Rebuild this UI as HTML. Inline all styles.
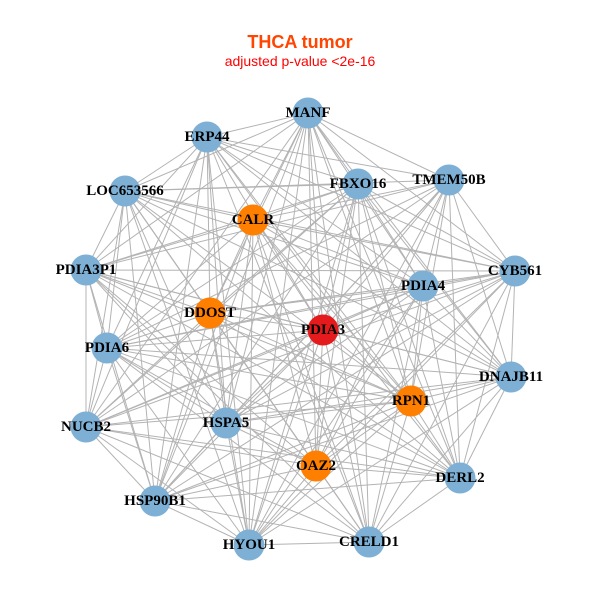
<!DOCTYPE html>
<html><head><style>
html,body{margin:0;padding:0;background:#fff;width:600px;height:600px;overflow:hidden}
svg text{font-family:"Liberation Serif",serif;font-weight:bold;font-size:15px;text-anchor:middle;dominant-baseline:central}
</style></head><body>
<svg id="g" width="600" height="600" xmlns="http://www.w3.org/2000/svg">
<text x="300" y="42" style="font-family:'Liberation Sans',sans-serif;font-size:18px;fill:#ff4500">THCA tumor</text>
<text x="300" y="61" style="font-family:'Liberation Sans',sans-serif;font-weight:normal;font-size:14px;fill:#ff0000">adjusted p-value &lt;2e-16</text>
<g id="e" stroke="#b3b3b3" stroke-width="1"></g>
<g id="n"></g>
</svg>
<script>
var N=[["MANF",308,113,0],["ERP44",207,137,0],["LOC653566",125,191,0],["FBXO16",358,184,0],["TMEM50B",449,180,0],["CALR",253,220,1],["PDIA3P1",86,270,0],["CYB561",515,271,0],["PDIA4",423,286,0],["DDOST",210,313,1],["PDIA3",323,330,2],["PDIA6",107,348,0],["DNAJB11",511,377,0],["RPN1",411,401,1],["NUCB2",86,427,0],["HSPA5",226,423,0],["OAZ2",316,466,1],["DERL2",460,478,0],["HSP90B1",155,501,0],["HYOU1",249,545,0],["CRELD1",369,542,0]];
var C=["#7eb0d5","#ff7f00","#e41a1c"],ns="http://www.w3.org/2000/svg";
var e=document.getElementById("e"),n=document.getElementById("n");
for(var i=0;i<N.length;i++)for(var j=i+1;j<N.length;j++){
 if((i*7+j*3)%11==0)continue;
 var l=document.createElementNS(ns,"line");
 l.setAttribute("x1",N[i][1]);l.setAttribute("y1",N[i][2]);l.setAttribute("x2",N[j][1]);l.setAttribute("y2",N[j][2]);e.appendChild(l);}
N.forEach(function(d){var c=document.createElementNS(ns,"circle");c.setAttribute("cx",d[1]);c.setAttribute("cy",d[2]);c.setAttribute("r",15.5);c.setAttribute("fill",C[d[3]]);n.appendChild(c);});
N.forEach(function(d){var t=document.createElementNS(ns,"text");t.setAttribute("x",d[1]);t.setAttribute("y",d[2]);t.textContent=d[0];n.appendChild(t);});
</script>
</body></html>
